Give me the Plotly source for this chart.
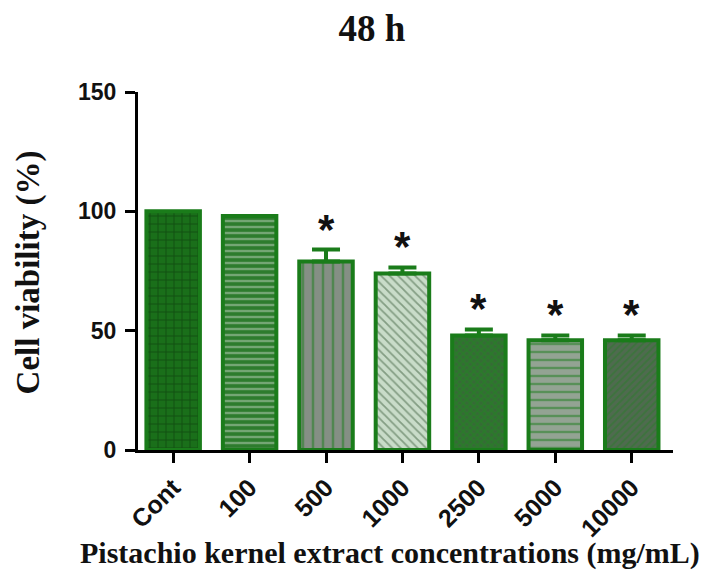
import plotly.graph_objects as go

categories = ["Cont", "100", "500", "1000", "2500", "5000", "10000"]
viability = [100, 98, 79, 74, 48, 46, 46]
sem = [0, 0, 5, 2.5, 2.5, 2, 2]
significant = [False, False, True, True, True, True, True]
y_ticks = [0, 50, 100, 150]

green = "#1a7c1a"
bg_colors = ["#1a6f1a", "#2d7c2d", "#858f85", "#c9dcc9", "#356c35", "#93a393", "#4f6b4f"]
fg_colors = ["#062806", "#bccfbc", "#1d7d1d", "#3f5f3f", "#1f8a1f", "#1d7d1d", "#2b7b2b"]
shapes = ["+", "-", "|", "\\", "x", "-", "/"]
sizes = [8, 6, 10, 6, 5, 8, 5]
solidities = [0.2, 0.4, 0.25, 0.3, 0.5, 0.3, 0.4]

fig = go.Figure()
for i, c in enumerate(categories):
    fig.add_trace(go.Bar(
        x=[c],
        y=[viability[i]],
        width=0.7,
        marker=dict(
            color=bg_colors[i],
            line=dict(color=green, width=4),
            pattern=dict(shape=shapes[i], fgcolor=fg_colors[i], size=sizes[i],
                         solidity=solidities[i], fillmode="overlay"),
        ),
        error_y=dict(type="data", symmetric=False, array=[sem[i]], arrayminus=[0],
                     color=green, thickness=4, width=14, visible=sem[i] > 0),
        showlegend=False,
    ))

annotations = []
for i, (v, e, s) in enumerate(zip(viability, sem, significant)):
    if s:
        annotations.append(dict(x=i, y=v + e, xref="x", yref="y", text="*",
                                showarrow=False, yanchor="bottom", yshift=-5,
                                font=dict(family="Liberation Sans", size=42, color="#111111", weight="bold")))

annotations.append(dict(x=0.471, y=-0.288, xref="paper", yref="paper",
                        text="Pistachio kernel extract concentrations (mg/mL)",
                        showarrow=False, xanchor="center", yanchor="middle",
                        font=dict(family="Liberation Serif", size=30, color="#111111", weight="bold")))
annotations.append(dict(x=-0.205, y=0.497, xref="paper", yref="paper",
                        text="Cell viability (%)", textangle=-90,
                        showarrow=False, xanchor="center", yanchor="middle",
                        font=dict(family="Liberation Serif", size=33, color="#111111", weight="bold")))

fig.update_layout(
    width=715, height=576,
    margin=dict(l=130, r=50, t=84, b=134),
    barmode="overlay",
    paper_bgcolor="white", plot_bgcolor="white",
    title=dict(text="48 h", x=0.509, y=0.965, xanchor="center", yanchor="middle",
               font=dict(family="Liberation Serif", size=37, color="#111111", weight="bold")),
    annotations=annotations,
    xaxis=dict(type="category", categoryorder="array", categoryarray=categories,
               range=[-0.46, 6.54], showline=True, linecolor="black", linewidth=3,
               ticks="outside", ticklen=10, tickwidth=3, tickcolor="black",
               tickangle=-45, showgrid=False, zeroline=False,
               tickfont=dict(family="Liberation Sans", size=25, color="#111111", weight="bold")),
    yaxis=dict(range=[0, 150], tickvals=y_ticks, showline=True, linecolor="black", linewidth=3,
               ticks="outside", ticklen=10, tickwidth=3, tickcolor="black",
               ticklabelstandoff=4,
               showgrid=False, zeroline=False,
               tickfont=dict(family="Liberation Sans", size=23, color="#111111", weight="bold")),
)

fig.write_html("out.html")
